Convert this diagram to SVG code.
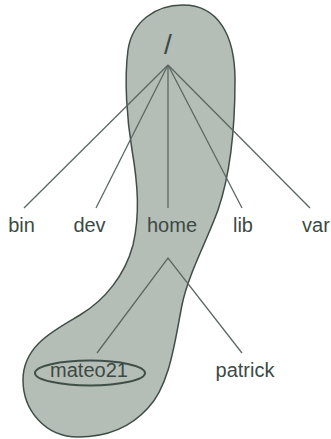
<svg xmlns="http://www.w3.org/2000/svg" width="331" height="439" viewBox="0 0 331 439">
<style>
.lbl{font-family:"Liberation Sans",Arial,sans-serif;font-size:20px;fill:#3c4a44;text-anchor:middle}
.edge{stroke:#5b6862;stroke-width:1.3;fill:none}
</style>
<rect width="331" height="439" fill="#ffffff"/>
<path id="blob" d="M183,5 C218,5 235,35 235,80 C235,130 230,175 218,210 C206,243 188,275 182,305 C175,340 170,385 148,408 C130,428 105,437 78,437 C45,437 23,410 23,380 C23,345 55,330 80,315 C105,300 125,275 133,245 C140,215 138,185 132,150 C127,120 124,80 128,50 C132,22 155,5 183,5 Z" fill="#b5bdb7" stroke="#3f4f47" stroke-width="1.5"/>
<g id="connectors">
<line class="edge" x1="168" y1="65" x2="24" y2="208"/>
<line class="edge" x1="168" y1="65" x2="96" y2="208"/>
<line class="edge" x1="168" y1="65" x2="168" y2="208"/>
<line class="edge" x1="168" y1="65" x2="242" y2="208"/>
<line class="edge" x1="168" y1="65" x2="310" y2="208"/>
<polyline class="edge" points="97,353 168,258 242,353"/>
</g>
<g id="root"><text class="lbl" x="168" y="54" style="font-size:28px">/</text></g>
<g id="bin"><text class="lbl" x="21.5" y="232">bin</text></g>
<g id="dev"><text class="lbl" x="89.5" y="232">dev</text></g>
<g id="home"><text class="lbl" x="172" y="232">home</text></g>
<g id="lib"><text class="lbl" x="243" y="232">lib</text></g>
<g id="var"><text class="lbl" x="316" y="232">var</text></g>
<g id="mateo21"><ellipse cx="90" cy="373" rx="55" ry="12.5" fill="none" stroke="#3f4f47" stroke-width="2"/><text class="lbl" x="89" y="377">mateo21</text></g>
<g id="patrick"><text class="lbl" x="245" y="377">patrick</text></g>
</svg>
